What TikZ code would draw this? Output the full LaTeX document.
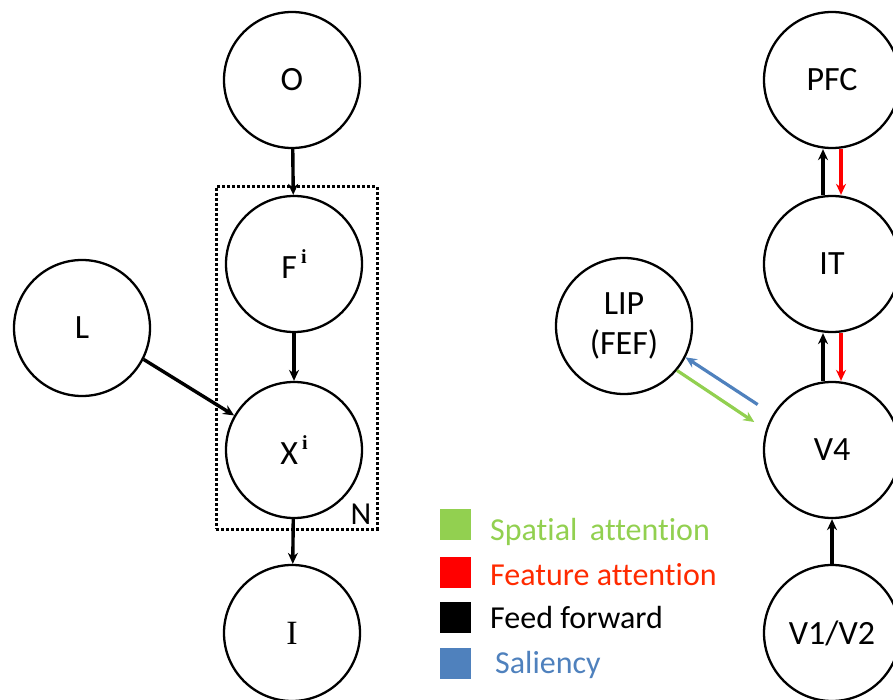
\documentclass[tikz,border=0pt]{standalone}
\usepackage{fontspec}
\setmainfont{Carlito}[Ligatures=NoCommon]
\newfontfamily\serifI{Liberation Serif}
\usepackage{xcolor}
\usetikzlibrary{arrows.meta,positioning}

\definecolor{spgreen}{HTML}{92D050}
\definecolor{fered}{HTML}{FF0000}
\definecolor{fetext}{HTML}{FF2A00}
\definecolor{salblue}{HTML}{4F81BD}

\newcommand{\supi}{\hspace{4pt}\raisebox{15pt}{\serifI\bfseries\fontsize{20}{20}\selectfont i}}

\begin{document}
\begin{tikzpicture}[
  x=1pt, y=-1pt,
  >={Stealth[length=11pt,width=10pt]},
  V/.style={draw, circle, line width=2.3pt, minimum size=136pt, inner sep=0pt,
            align=center, font=\fontsize{34}{40}\selectfont},
  ff/.style={->, line width=3.4pt, black},
  fa/.style={->, line width=3.2pt, fered},
  sa/.style={->, line width=3.2pt, spgreen},
  sal/.style={->, line width=3.2pt, salblue},
  sq/.style={fill=#1, minimum size=31pt, inner sep=0pt},
  lg/.style={anchor=base west, inner sep=0pt, font=\fontsize{32}{38}\selectfont, text=#1},
]
\useasboundingbox (0,0) rectangle (893,700);

%--- GENERATIVE MODEL (left) ---
\node[V] (O) at (292,80)  {O};
\node[V] (F) at (294,264) {F\supi};
\node[V] (X) at (294,450) {X\supi};
\node[V] (I) at (292,633) {\serifI I};
\node[V] (L) at (82,328)  {L};

%--- PLATE ---
\node[draw, dotted, line width=3pt, minimum width=161pt, minimum height=342pt, inner sep=0pt]
  (plate) at (296.5,358) {};
\node[font=\fontsize{32}{38}\selectfont] (Nlab) at (361,514) {N};

%--- BRAIN AREAS (right) ---
\node[V] (PFC) at (832,80)  {PFC};
\node[V] (IT)  at (832,264) {IT};
\node[V] (V4)  at (832,450) {V4};
\node[V] (V12) at (832,633) {V1/V2};
\node[V] (LIP) at (624,326) {LIP\\(FEF)};

%--- LEGEND ---
\node[sq=spgreen] (sqsp) at (455,524) {};
\node[sq=fered]   (sqfe) at (455,572) {};
\node[sq=black]   (sqff) at (455,617) {};
\node[sq=salblue] (sqsa) at (455,663) {};
\node[lg=spgreen] (tsp) at (490,540) {Spatial\, attention};
\node[lg=fetext]  (tfe) at (490,585) {Feature attention};
\node[lg=black]   (tff) at (490,628) {Feed forward};
\node[lg=salblue] (tsa) at (495,673) {Saliency};

%--- ARROWS (left) ---
\draw[ff] (O) -- (F);
\draw[ff] (F) -- (X);
\draw[ff] (X) -- (I);
\draw[ff] (L.-27) -- (X.150);

%--- ARROWS (right) ---
\draw[ff] ([xshift=-9pt]IT.north) -- ([xshift=-9pt]PFC.south);
\draw[fa] ([xshift=9pt]PFC.south) -- ([xshift=9pt]IT.north);
\draw[ff] ([xshift=-9pt]V4.north) -- ([xshift=-9pt]IT.south);
\draw[fa] ([xshift=9pt]IT.south) -- ([xshift=9pt]V4.north);
\draw[ff] (V12) -- (V4);
\draw[sal, shorten <=18pt] (V4.149) -- (LIP.-27);
\draw[sa, shorten >=14pt] (LIP.-40) -- (V4.163);
\end{tikzpicture}
\end{document}
